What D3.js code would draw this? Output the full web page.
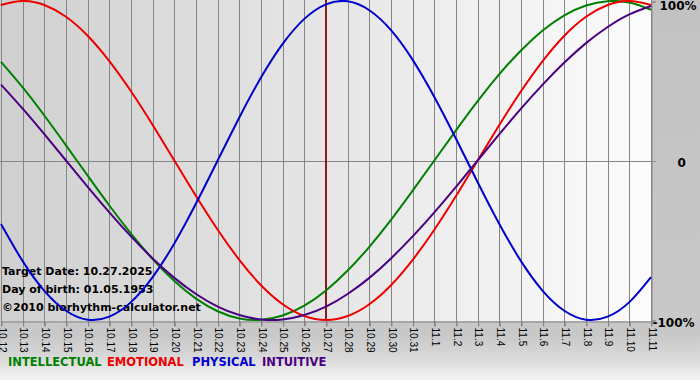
<!DOCTYPE html>
<html>
<head>
<meta charset="utf-8">
<script src="https://cdn.jsdelivr.net/npm/d3@7"></script>
<style>
  html, body { margin: 0; padding: 0; background: #c4c4c4; }
  svg { display: block; font-family: "DejaVu Sans", Verdana, sans-serif; }
</style>
</head>
<body>
<div id="chart"></div>
<script>
// Day labels along the bottom (10.12 .. 11.11)
var days = ["10.12", "10.13", "10.14", "10.15", "10.16", "10.17", "10.18", "10.19", "10.20", "10.21",
    "10.22", "10.23", "10.24", "10.25", "10.26", "10.27", "10.28", "10.29", "10.30", "10.31",
    "11.1", "11.2", "11.3", "11.4", "11.5", "11.6", "11.7", "11.8", "11.9", "11.10", "11.11"];

// Cycle values for each day (-1 .. 1)
var intellectual = [0.618, 0.458, 0.282, 0.095, -0.095, -0.282, -0.458, -0.618, -0.756, -0.866,
    -0.945, -0.990, -0.999, -0.972, -0.910, -0.815, -0.690, -0.541, -0.372, -0.189,
    0, 0.189, 0.372, 0.541, 0.690, 0.815, 0.910, 0.972, 0.999, 0.990, 0.945];
var emotional = [0.975, 1.000, 0.975, 0.901, 0.782, 0.623, 0.434, 0.223, 0, -0.223,
    -0.434, -0.623, -0.782, -0.901, -0.975, -1.000, -0.975, -0.901, -0.782, -0.623,
    -0.434, -0.223, 0, 0.223, 0.434, 0.623, 0.782, 0.901, 0.975, 1.000, 0.975];
var physical = [-0.398, -0.631, -0.817, -0.942, -0.998, -0.979, -0.888, -0.731, -0.520, -0.270,
    0, 0.270, 0.520, 0.731, 0.888, 0.979, 0.998, 0.942, 0.817, 0.631,
    0.398, 0.136, -0.136, -0.398, -0.631, -0.817, -0.942, -0.998, -0.979, -0.888, -0.731];
var intuitive = [0.476, 0.325, 0.165, 0, -0.165, -0.325, -0.476, -0.614, -0.736, -0.837,
    -0.916, -0.969, -0.997, -0.997, -0.969, -0.916, -0.837, -0.736, -0.614, -0.476,
    -0.325, -0.165, 0, 0.165, 0.325, 0.476, 0.614, 0.736, 0.837, 0.916, 0.969];

var targetDay = "10.27";
var yTicks = [1, 0, -1];
var yTickLabels = ["100%", "0", "-100%"];
var infoLines = ["Target Date: 10.27.2025", "Day of birth: 01.05.1953", "\u00a92010 biorhythm-calculator.net"];

var seriesNames = ["INTELLECTUAL", "EMOTIONAL", "PHYSICAL", "INTUITIVE"];
var seriesColors = ["#008000", "#ee0000", "#0000cc", "#4b0082"];
var seriesData = [intellectual, emotional, physical, intuitive];

var svgWidth = 700;
var svgHeight = 380;
var plotLeft = 1, plotRight = 651, plotTop = 1, plotBottom = 320;

var svg = d3.select("#chart")
    .append("svg")
    .attr("width", svgWidth)
    .attr("height", svgHeight);

var defs = svg.append("defs");

// outer background, grey going lighter at the bottom
var outerGrad = defs.append("linearGradient")
    .attr("id", "outerGrad")
    .attr("x1", 0).attr("y1", 0).attr("x2", 0).attr("y2", 1);
outerGrad.append("stop").attr("offset", "0%").attr("stop-color", "#c2c2c2");
outerGrad.append("stop").attr("offset", "88%").attr("stop-color", "#c8c8c8");
outerGrad.append("stop").attr("offset", "94%").attr("stop-color", "#d8d8d8");
outerGrad.append("stop").attr("offset", "100%").attr("stop-color", "#f4f4f4");

// plot background, grey on the left to white on the right
var plotGrad = defs.append("linearGradient")
    .attr("id", "plotGrad")
    .attr("x1", 0).attr("y1", 0).attr("x2", 1).attr("y2", 0);
plotGrad.append("stop").attr("offset", "0%").attr("stop-color", "#d0d0d0");
plotGrad.append("stop").attr("offset", "100%").attr("stop-color", "#fcfcfc");

svg.append("rect")
    .attr("width", svgWidth)
    .attr("height", svgHeight)
    .attr("fill", "url(#outerGrad)");

var xScale = d3.scalePoint()
    .domain(days)
    .range([plotLeft, plotRight]);

var yScale = d3.scaleLinear()
    .domain([-1, 1])
    .range([plotBottom, plotTop]);

svg.append("rect")
    .attr("x", 0)
    .attr("y", 0)
    .attr("width", plotRight)
    .attr("height", plotBottom + 1)
    .attr("fill", "url(#plotGrad)");

// vertical grid lines at every day
svg.append("g")
    .selectAll("line")
    .data(days)
    .join("line")
    .attr("x1", d => Math.round(xScale(d)) + 0.5)
    .attr("x2", d => Math.round(xScale(d)) + 0.5)
    .attr("y1", 0)
    .attr("y2", plotBottom + 6)
    .attr("stroke", "#858585")
    .attr("stroke-width", 1);

// zero line
svg.append("line")
    .attr("x1", 0)
    .attr("x2", plotRight + 4)
    .attr("y1", Math.round(yScale(0)) + 0.5)
    .attr("y2", Math.round(yScale(0)) + 0.5)
    .attr("stroke", "#858585");

// bottom axis
var bottomAxis = d3.axisBottom(xScale).tickSize(5).tickSizeOuter(0);
var xAxisGroup = svg.append("g")
    .attr("transform", `translate(0.5, ${plotBottom + 1.5})`)
    .call(bottomAxis);
xAxisGroup.select(".domain").attr("stroke", "#858585");
xAxisGroup.selectAll(".tick line").attr("stroke", "#858585");
xAxisGroup.selectAll(".tick text")
    .attr("transform", "rotate(90)")
    .attr("x", 6)
    .attr("y", 0)
    .attr("dy", "0.35em")
    .attr("text-anchor", "start")
    .style("font-family", "'Liberation Sans', Arial, sans-serif")
    .style("font-size", "10px")
    .attr("fill", "#000");

// right axis
var rightAxis = d3.axisRight(yScale).tickValues(yTicks).tickSize(4)
    .tickFormat((d, i) => yTickLabels[i]);
var yAxisGroup = svg.append("g")
    .attr("transform", `translate(${plotRight + 0.5}, 0.5)`)
    .call(rightAxis);
yAxisGroup.select(".domain").attr("stroke", "#858585");
yAxisGroup.selectAll(".tick line").attr("stroke", "#858585");
yAxisGroup.selectAll(".tick text")
    .style("font-family", "'DejaVu Sans', Verdana, sans-serif")
    .style("font-size", "12px")
    .style("font-weight", "bold")
    .attr("fill", "#000")
    .attr("x", (d, i) => i === 1 ? 26 : (i === 0 ? 8 : 1))
    .attr("dy", (d, i) => i === 0 ? "0.65em" : (i === 2 ? "0.5em" : "0.45em"));

// target date marker
svg.append("line")
    .attr("x1", xScale(targetDay))
    .attr("x2", xScale(targetDay))
    .attr("y1", 0)
    .attr("y2", plotBottom + 1)
    .attr("stroke", "#8b1a1a")
    .attr("stroke-width", 2);

// info text
svg.append("g")
    .selectAll("text")
    .data(infoLines)
    .join("text")
    .attr("x", 2)
    .attr("y", (d, i) => 275 + i * 18)
    .style("font-size", "11px")
    .style("font-weight", "bold")
    .attr("fill", "#000")
    .text(d => d);

// the four cycles
var line = d3.line()
    .x((d, i) => xScale(days[i]))
    .y(d => yScale(d))
    .curve(d3.curveNatural);

svg.append("g")
    .selectAll("path")
    .data(seriesData)
    .join("path")
    .attr("d", d => line(d))
    .attr("fill", "none")
    .attr("stroke", (d, i) => seriesColors[i])
    .attr("stroke-width", 2);

// legend, one word per series
var legendX = [8, 107, 192, 262];
svg.append("g")
    .selectAll("text")
    .data(seriesNames)
    .join("text")
    .attr("x", (d, i) => legendX[i])
    .attr("y", 366)
    .style("font-size", "11.5px")
    .style("font-weight", "bold")
    .attr("fill", (d, i) => seriesColors[i])
    .text(d => d);
</script>
</body>
</html>
